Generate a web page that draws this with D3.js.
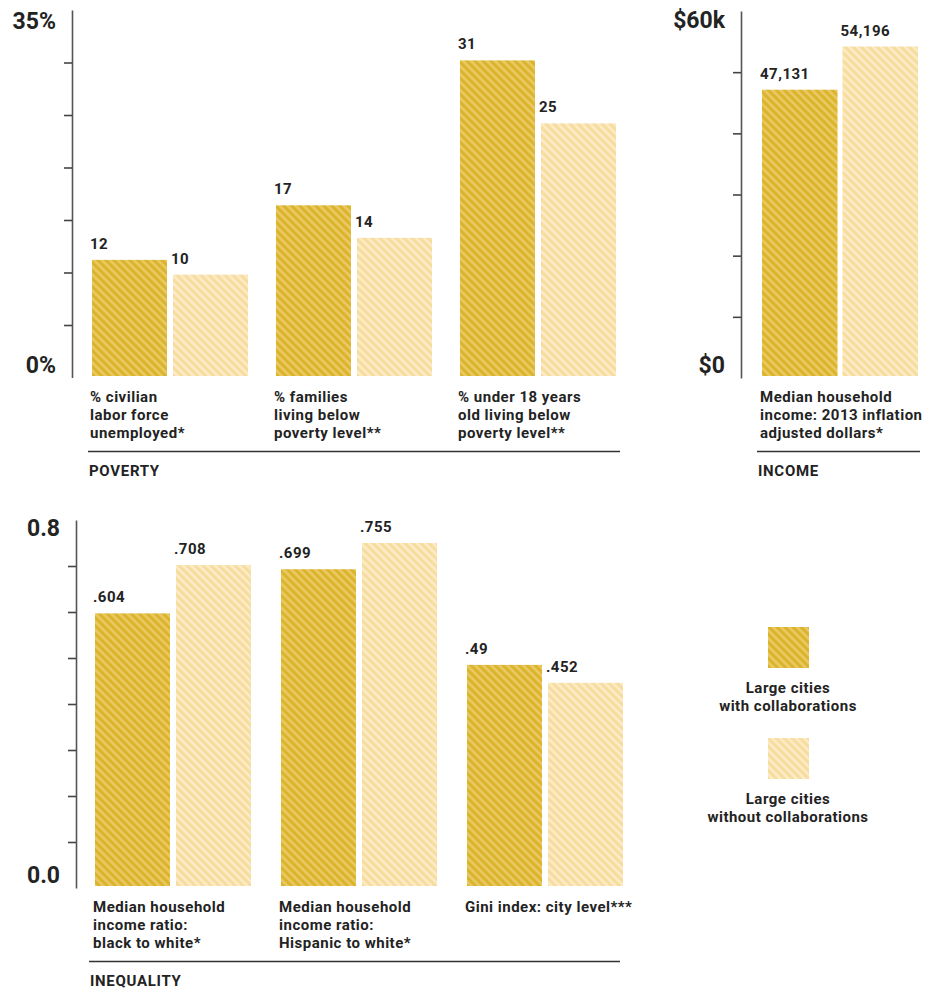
<!DOCTYPE html>
<html>
<head>
<meta charset="utf-8">
<script src="https://cdn.jsdelivr.net/npm/d3@7"></script>
<style>
  html, body { margin: 0; padding: 0; background: #fff; }
  svg { display: block; font-family: Roboto, "Noto Sans", sans-serif; }
  .val, .cat, .sec, .leg { font-weight: 700; fill: #232323; }
  .val { font-size: 15px; letter-spacing: 0.5px; }
  .cat { font-size: 15px; letter-spacing: 0.5px; }
  .sec { font-size: 15px; letter-spacing: 0.7px; }
  .leg { font-size: 15px; letter-spacing: 0.5px; }
  .axlab { font-weight: 700; font-size: 23px; fill: #232323; }
</style>
</head>
<body>
<svg id="chart" width="930" height="994"></svg>
<script>
// ---------- DATA ----------
const seriesNames = ["Large cities with collaborations", "Large cities without collaborations"];

const povertyCategories = [
  ["% civilian", "labor force", "unemployed*"],
  ["% families", "living below", "poverty level**"],
  ["% under 18 years", "old living below", "poverty level**"]
];
const povertyWith = [11.2, 16.4, 30.2];
const povertyWithout = [9.8, 13.3, 24.2];
const povertyWithLabels = ["12", "17", "31"];
const povertyWithoutLabels = ["10", "14", "25"];
const povertyTicks = [5, 10, 15, 20, 25, 30];
const povertyAxisLabels = ["0%", "35%"];

const incomeCategories = [
  ["Median household", "income: 2013 inflation", "adjusted dollars*"]
];
const incomeWith = [47131];
const incomeWithout = [54196];
const incomeWithLabels = ["47,131"];
const incomeWithoutLabels = ["54,196"];
const incomeTicks = [10000, 20000, 30000, 40000, 50000];
const incomeAxisLabels = ["$0", "$60k"];

const inequalityCategories = [
  ["Median household", "income ratio:", "black to white*"],
  ["Median household", "income ratio:", "Hispanic to white*"],
  ["Gini index: city level***"]
];
const inequalityWith = [0.597, 0.693, 0.485];
const inequalityWithout = [0.702, 0.750, 0.446];
const inequalityWithLabels = [".604", ".699", ".49"];
const inequalityWithoutLabels = [".708", ".755", ".452"];
const inequalityTicks = [0.1, 0.2, 0.3, 0.4, 0.5, 0.6, 0.7];
const inequalityAxisLabels = ["0.0", "0.8"];

const sectionNames = ["POVERTY", "INCOME", "INEQUALITY"];

// ---------- DRAW ----------
const svg = d3.select("#chart");
const defs = svg.append("defs");

function stripePattern(id, base, stripe) {
  const p = defs.append("pattern")
    .attr("id", id)
    .attr("patternUnits", "userSpaceOnUse")
    .attr("width", 5.66).attr("height", 10)
    .attr("patternTransform", "rotate(-45)");
  p.append("rect").attr("width", 5.66).attr("height", 10).attr("fill", base);
  p.append("rect").attr("width", 2.6).attr("height", 10).attr("fill", stripe);
}
stripePattern("pWith", "#dbb42c", "#e9c963");
stripePattern("pWithout", "#f6dc9d", "#fcebc6");
const fills = ["url(#pWith)", "url(#pWithout)"];

function panel(cfg) {
  const g = svg.append("g");
  const y = d3.scaleLinear().domain(cfg.domain).range(cfg.yRange);
  const x0 = d3.scaleBand()
    .domain(d3.range(cfg.cats.length))
    .range(cfg.xRange)
    .paddingInner(cfg.padOuter)
    .paddingOuter(0);
  const x1 = d3.scaleBand()
    .domain([0, 1])
    .range([0, x0.bandwidth()])
    .paddingInner(cfg.padInner);

  // axis
  const axis = d3.axisLeft(y).tickValues(cfg.ticks).tickSize(8).tickSizeOuter(0).tickFormat("");
  const ax = g.append("g").attr("transform", `translate(${cfg.axisX},0)`).call(axis);
  ax.select(".domain").attr("stroke", "#555").attr("stroke-width", 1.6);
  ax.selectAll(".tick line").attr("stroke", "#444").attr("stroke-width", 1.6);

  g.append("text").attr("class", "axlab")
    .attr("x", cfg.axisX - 16).attr("y", y(cfg.domain[1]) + cfg.topLabDy)
    .attr("text-anchor", "end").text(cfg.axisLabels[1]);
  g.append("text").attr("class", "axlab")
    .attr("x", cfg.axisX - 16).attr("y", y(cfg.domain[0]) - 5)
    .attr("text-anchor", "end").text(cfg.axisLabels[0]);

  const base = y(0) - cfg.baseInset;
  const series = [cfg.withVals, cfg.withoutVals];
  const labels = [cfg.withLabels, cfg.withoutLabels];

  cfg.cats.forEach((cat, i) => {
    const gx = x0(i);
    [0, 1].forEach(s => {
      const v = series[s][i];
      const bx = gx + x1(s);
      g.append("rect")
        .attr("x", bx).attr("y", y(v))
        .attr("width", x1.bandwidth()).attr("height", base - y(v))
        .attr("fill", fills[s]);
      g.append("text").attr("class", "val")
        .attr("x", bx - 2).attr("y", y(v) - 11)
        .text(labels[s][i]);
    });
    const t = g.append("text").attr("class", "cat")
      .attr("x", gx - 2).attr("y", base + 26);
    cat.forEach((line, k) => {
      t.append("tspan").attr("x", gx - 2).attr("dy", k === 0 ? 0 : 18).text(line);
    });
  });

  g.append("line")
    .attr("x1", cfg.sepX[0]).attr("x2", cfg.sepX[1])
    .attr("y1", base + 75.5).attr("y2", base + 75.5)
    .attr("stroke", "#333").attr("stroke-width", 1.5);
  g.append("text").attr("class", "sec")
    .attr("x", cfg.sepX[0] + 1).attr("y", base + 100)
    .text(cfg.section);
}

panel({
  cats: povertyCategories, withVals: povertyWith, withoutVals: povertyWithout,
  withLabels: povertyWithLabels, withoutLabels: povertyWithoutLabels,
  domain: [0, 35], yRange: [377.5, 10], ticks: povertyTicks, axisLabels: povertyAxisLabels,
  xRange: [92, 616], padOuter: 28 / 184, padInner: 6 / 81,
  axisX: 72, topLabDy: 18.5, baseInset: 1.5, sepX: [88, 620], section: sectionNames[0]
});

panel({
  cats: incomeCategories, withVals: incomeWith, withoutVals: incomeWithout,
  withLabels: incomeWithLabels, withoutLabels: incomeWithoutLabels,
  domain: [0, 60000], yRange: [378, 11], ticks: incomeTicks, axisLabels: incomeAxisLabels,
  xRange: [762, 918], padOuter: 0, padInner: 5 / 81,
  axisX: 741, topLabDy: 16.5, baseInset: 2, sepX: [757, 920], section: sectionNames[1]
});

panel({
  cats: inequalityCategories, withVals: inequalityWith, withoutVals: inequalityWithout,
  withLabels: inequalityWithLabels, withoutLabels: inequalityWithoutLabels,
  domain: [0, 0.8], yRange: [888, 520], ticks: inequalityTicks, axisLabels: inequalityAxisLabels,
  xRange: [95, 623], padOuter: 30 / 186, padInner: 6 / 81,
  axisX: 76, topLabDy: 16, baseInset: 2, sepX: [89, 620], section: sectionNames[2]
});

// legend
const legend = svg.append("g");
const legendY = d3.scalePoint().domain([0, 1]).range([627, 738]);
const legendLines = [["Large cities", "with collaborations"], ["Large cities", "without collaborations"]];
[0, 1].forEach(s => {
  const ly = legendY(s);
  legend.append("rect").attr("x", 768).attr("y", ly).attr("width", 41).attr("height", 41)
    .attr("fill", fills[s]);
  const t = legend.append("text").attr("class", "leg").attr("text-anchor", "middle")
    .attr("x", 788).attr("y", ly + 66);
  legendLines[s].forEach((line, k) => {
    t.append("tspan").attr("x", 788).attr("dy", k === 0 ? 0 : 17.5).text(line);
  });
});
</script>
</body>
</html>
